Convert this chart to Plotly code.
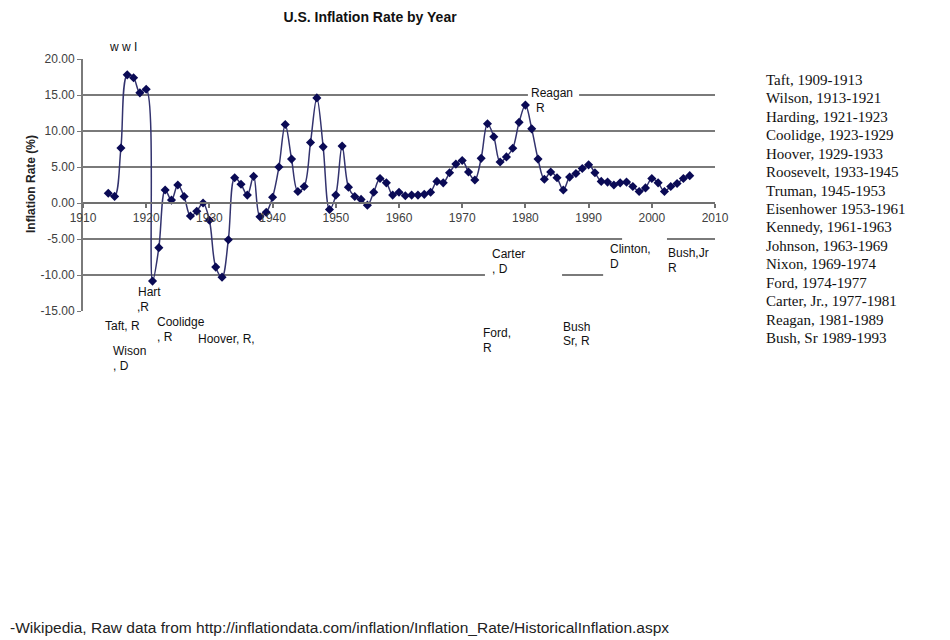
import plotly.graph_objects as go

# inflation rate (%) by year
years = list(range(1914, 2007))
rates = [
    1.35, 0.92, 7.64, 17.8, 17.4, 15.3, 15.8, -10.85, -6.2, 1.8,
    0.4, 2.5, 0.9, -1.8, -1.15, 0.0, -2.4, -8.9, -10.3, -5.1,
    3.5, 2.6, 1.1, 3.7, -1.9, -1.3, 0.8, 5.0, 10.9, 6.1,
    1.6, 2.3, 8.4, 14.6, 7.8, -0.9, 1.1, 7.9, 2.2, 0.9,
    0.5, -0.3, 1.5, 3.4, 2.8, 1.1, 1.5, 1.0, 1.1, 1.1,
    1.2, 1.5, 3.0, 2.8, 4.2, 5.4, 5.9, 4.3, 3.2, 6.2,
    11.0, 9.2, 5.7, 6.4, 7.6, 11.2, 13.6, 10.3, 6.1, 3.3,
    4.3, 3.5, 1.8, 3.6, 4.1, 4.8, 5.3, 4.2, 3.0, 2.9,
    2.5, 2.8, 2.9, 2.3, 1.6, 2.1, 3.4, 2.8, 1.6, 2.3,
    2.7, 3.4, 3.8,
]

y_ticks = [-15, -10, -5, 0, 5, 10, 15, 20]
y_tick_text = ["-15.00", "-10.00", "-5.00", "0.00", "5.00", "10.00", "15.00", "20.00"]

presidents = [
    "Taft, 1909-1913", "Wilson, 1913-1921", "Harding, 1921-1923",
    "Coolidge, 1923-1929", "Hoover, 1929-1933", "Roosevelt, 1933-1945",
    "Truman, 1945-1953", "Eisenhower 1953-1961", "Kennedy, 1961-1963",
    "Johnson, 1963-1969", "Nixon, 1969-1974", "Ford, 1974-1977",
    "Carter, Jr., 1977-1981", "Reagan, 1981-1989", "Bush, Sr 1989-1993",
]

# hand-placed labels under the chart (text, left px, middle px)
labels = [
    ("w w I", 107, 47), ("Reagan", 529, 93), ("R", 534, 108),
    ("Hart", 136, 292), (",R", 135, 307), ("Taft, R", 103, 326),
    ("Coolidge", 155, 322), (", R", 155, 337), ("Wison", 111, 351),
    (", D", 111, 366), ("Hoover, R,", 196, 339),
    ("Carter", 490, 254), (", D", 490, 269), ("Ford,", 481, 333),
    ("R", 481, 348), ("Bush", 561, 327), ("Sr, R", 561, 341),
    ("Clinton,", 608, 249), ("D", 608, 264), ("Bush,Jr", 666, 253),
    ("R", 666, 268),
]

# white patches where the labels break the gridlines (x0, x1, y0, y1 in data units)
gaps = [
    (1980.4, 1988.5, 14, 16),
    (1995.3, 2002.4, -4, -6),
    (1973.6, 1985.8, -9, -16),
    (1992.3, 2010, -9, -11),
    (1918.2, 1922.8, -14, -16),
    (2002.6, 2010, -14, -16),
]

# the page body adds an 8px margin, so the figure is drawn 8px in from the corner
OFF = 8
FW, FH = 950 - OFF, 640 - OFF
L, T, W, H = 83 - OFF, 59 - OFF, 632, 252
SANS = "Arial, Liberation Sans, sans-serif"
SERIF = "Times New Roman, Liberation Serif, serif"


def px_x(px):
    return (px - OFF - L) / W


def px_y(py):
    return (T + H - (py - OFF)) / H


fig = go.Figure()
fig.add_trace(go.Scatter(
    x=years, y=rates, mode="lines+markers",
    line=dict(color="#33336e", width=1.5, shape="spline", smoothing=1.0),
    marker=dict(symbol="diamond", size=7, color="#0a0a55"),
    showlegend=False,
))

for x0, x1, y0, y1 in gaps:
    fig.add_shape(type="rect", x0=x0, x1=x1, y0=y0, y1=y1, layer="between",
                  fillcolor="white", line=dict(width=0))

for text, x, y in labels:
    fig.add_annotation(text=text, xref="paper", yref="paper", x=px_x(x), y=px_y(y),
                       xanchor="left", yanchor="middle", showarrow=False,
                       font=dict(family=SANS, size=12, color="#111"))

for i, name in enumerate(presidents):
    fig.add_annotation(text=name, xref="paper", yref="paper",
                       x=px_x(764), y=px_y(80 + i * 18.43),
                       xanchor="left", yanchor="middle", showarrow=False,
                       font=dict(family=SERIF, size=15, color="#111"))

fig.add_annotation(text="<b>Inflation Rate (%)</b>", xref="paper", yref="paper",
                   x=px_x(22), y=px_y(184), textangle=-90, showarrow=False,
                   font=dict(family=SANS, size=12, color="#222"))

# source line along the bottom edge
fig.add_annotation(
    text="-Wikipedia, Raw data from http://inflationdata.com/inflation/Inflation_Rate/HistoricalInflation.aspx",
    xref="paper", yref="paper", x=px_x(8), y=px_y(627),
    xanchor="left", yanchor="middle", showarrow=False,
    font=dict(family=SANS, size=15.5, color="#222"))

fig.update_layout(
    width=FW, height=FH,
    margin=dict(l=L, r=FW - L - W, t=T, b=FH - T - H),
    paper_bgcolor="white", plot_bgcolor="white",
    title=dict(text="<b>U.S. Inflation Rate by Year</b>", x=(370 - OFF) / FW, xanchor="center",
               y=1 - (17 - OFF) / FH, yanchor="middle",
               font=dict(family=SANS, size=14, color="#111")),
    xaxis=dict(range=[1910, 2010], dtick=10, tick0=1910, showgrid=False, zeroline=False,
               anchor="free", position=15 / 35, showline=True, linecolor="#707070", linewidth=2,
               ticks="outside", ticklen=4, tickcolor="#707070", tickwidth=1.5,
               tickfont=dict(family=SANS, size=12, color="#404040")),
    yaxis=dict(range=[-15, 20], tickvals=y_ticks, ticktext=y_tick_text, showgrid=True,
               gridcolor="#7a7a7a", gridwidth=2, zeroline=False,
               showline=True, linecolor="#7a7a7a", linewidth=2,
               ticks="outside", ticklen=4, tickcolor="#7a7a7a",
               tickfont=dict(family=SANS, size=12, color="#404040")),
)

fig.write_html("out.html")
